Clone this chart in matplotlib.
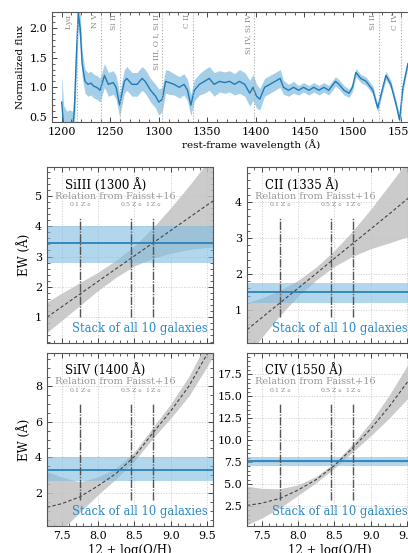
import numpy as np
import matplotlib
matplotlib.use("Agg")
import matplotlib.pyplot as plt
from matplotlib.ticker import AutoMinorLocator, MultipleLocator, FormatStrFormatter

plt.rcParams["font.family"] = ["DejaVu Serif"]
plt.rcParams["mathtext.fontset"] = "dejavuserif"

# stacked spectrum
wave = [1200, 1202, 1205, 1208, 1211, 1213, 1215, 1217, 1219, 1221, 1224, 1227,
        1230, 1233, 1236, 1239.5, 1244, 1248, 1253, 1256, 1259.6, 1264.5, 1267,
        1272.4, 1277.6, 1282.8, 1286, 1291.5, 1296.7, 1300, 1303.6, 1307, 1310.6,
        1315.8, 1321, 1326, 1329.6, 1333, 1336.6, 1341.8, 1347, 1352, 1357,
        1362.5, 1367.8, 1373, 1378, 1383, 1388.5, 1393.7, 1397, 1400.7, 1404,
        1409, 1414.5, 1419.8, 1425, 1428.4, 1433.6, 1438.8, 1444, 1449, 1454.6,
        1459.6, 1465, 1470, 1475, 1482, 1485.6, 1490.8, 1496, 1499.5, 1503,
        1508, 1513.6, 1520.5, 1525.5, 1530.8, 1534, 1539, 1544.6, 1548, 1551.5,
        1556.6, 1562]
flux = [0.75, 0.35, 0.3, 0.32, 0.3, 0.6, 1.5, 2.25, 2.0, 1.4, 1.1, 1.05,
        1.07, 1.02, 1.0, 0.95, 1.2, 1.05, 1.08, 1.0, 0.7, 1.1, 1.15,
        1.05, 1.05, 1.15, 1.1, 0.95, 0.85, 0.75, 0.8, 1.1, 1.08,
        1.05, 1.0, 1.05, 0.95, 0.7, 0.95, 1.05, 1.1, 1.15, 1.05,
        1.1, 1.08, 1.1, 1.05, 1.1, 1.05, 0.9, 1.0, 0.85, 0.8,
        1.0, 1.05, 1.1, 1.15, 1.0, 0.95, 1.0, 0.95, 1.0, 0.95,
        1.0, 0.95, 1.0, 0.95, 1.1, 1.05, 0.95, 0.9, 1.0, 1.25,
        1.15, 1.1, 0.95, 0.65, 1.0, 1.2, 1.05, 0.7, 0.45, 1.0,
        1.4, 1.35]
flux_err = [0.45, 0.35, 0.3, 0.3, 0.3, 0.3, 0.3, 0.25, 0.25, 0.22, 0.2, 0.2,
            0.2, 0.2, 0.2, 0.2, 0.2, 0.2, 0.2, 0.2, 0.2, 0.2, 0.2,
            0.2, 0.2, 0.2, 0.2, 0.2, 0.2, 0.22, 0.2, 0.2, 0.2,
            0.18, 0.18, 0.18, 0.18, 0.18, 0.18, 0.18, 0.2, 0.2, 0.2,
            0.18, 0.18, 0.18, 0.18, 0.2, 0.2, 0.22, 0.22, 0.2, 0.18,
            0.15, 0.15, 0.15, 0.15, 0.12, 0.1, 0.1, 0.08, 0.08, 0.08,
            0.08, 0.08, 0.08, 0.08, 0.08, 0.08, 0.08, 0.07, 0.07, 0.07,
            0.07, 0.07, 0.07, 0.07, 0.07, 0.07, 0.07, 0.07, 0.07, 0.07,
            0.07, 0.07]

line_names = ["Ly$\\alpha$", "N V", "Si II", "Si III, O I, Si II", "C II",
              "Si IV, Si IV", "Si II", "C IV"]
line_waves = [1216, 1240, 1260, 1303, 1335, 1398, 1527, 1549]

# Faisst+16 relations on a metallicity grid
oh = [7.3, 7.5, 7.75, 8.0, 8.25, 8.5, 8.75, 9.0, 9.25, 9.5, 9.6]

siiii_mid = [1.0, 1.34, 1.76, 2.18, 2.6, 3.02, 3.44, 3.86, 4.28, 4.7, 4.86]
siiii_lo = [0.5, 0.89, 1.38, 1.88, 2.32, 2.69, 2.94, 3.11, 3.23, 3.3, 3.31]
siiii_hi = [1.5, 1.79, 2.14, 2.48, 2.88, 3.35, 3.94, 4.61, 5.33, 6.1, 6.41]

cii_mid = [0.45, 0.78, 1.19, 1.6, 2.01, 2.43, 2.84, 3.25, 3.66, 4.08, 4.24]
cii_lo = [-0.3, 0.23, 0.84, 1.38, 1.83, 2.21, 2.49, 2.7, 2.86, 3.03, 3.09]
cii_hi = [1.2, 1.33, 1.54, 1.82, 2.19, 2.65, 3.19, 3.8, 4.46, 5.13, 5.39]

siiv_mid = [1.2, 1.4, 1.78, 2.4, 3.1, 4.05, 5.35, 6.6, 8.0, 9.8, 10.6]
siiv_lo = [-0.8, -0.1, 0.93, 1.9, 2.8, 3.8, 5.05, 6.2, 7.45, 9.1, 9.8]
siiv_hi = [3.2, 2.9, 2.63, 2.9, 3.4, 4.3, 5.65, 7.0, 8.55, 10.5, 11.4]

civ_mid = [2.55, 2.8, 3.35, 4.3, 5.5, 7.1, 9.1, 11.3, 13.8, 16.6, 17.8]
civ_lo = [0.35, 1.1, 2.25, 3.7, 5.15, 6.8, 8.65, 10.5, 12.5, 14.7, 15.6]
civ_hi = [4.75, 4.5, 4.45, 4.9, 5.85, 7.4, 9.55, 12.1, 15.1, 18.5, 20.0]

panel_names = ["SiIII (1300 Å)", "CII (1335 Å)", "SiIV (1400 Å)", "CIV (1550 Å)"]
stack_ew = [3.45, 1.5, 3.3, 7.6]
stack_lo = [2.8, 1.2, 2.7, 7.1]
stack_hi = [4.0, 1.75, 4.0, 8.1]
ylims = [(0.15, 5.95), (0.08, 4.97), (0.15, 9.85), (0.2, 19.95)]
ysteps = [1, 1, 2, 2.5]

z_marks = [7.76, 8.46, 8.76]
z_labels = ["0.1 Z$_\\odot$", "0.5 Z$_\\odot$", "1 Z$_\\odot$"]

blue = "#1f7bb6"
blue_band = "#7fbbe0"
grey_band = "#c2c2c2"

fig = plt.figure(figsize=(4.08, 5.53), dpi=100)


def style_axes(ax):
    ax.tick_params(which="both", direction="in", top=True, right=True,
                   colors="#444444", labelcolor="black", labelsize=8)
    ax.tick_params(which="major", length=3.5, width=0.7)
    ax.tick_params(which="minor", length=2, width=0.6)
    ax.xaxis.set_minor_locator(AutoMinorLocator())
    ax.yaxis.set_minor_locator(AutoMinorLocator())
    for s in ax.spines.values():
        s.set_color("#555555")
        s.set_linewidth(0.8)


# top: spectrum
ax = fig.add_axes([0.1275, 0.7794, 0.9755, 0.1989])
ax.fill_between(wave, np.array(flux) - np.array(flux_err),
                np.array(flux) + np.array(flux_err), color=blue_band,
                alpha=0.7, lw=0)
ax.plot(wave, flux, color=blue, lw=1.0)
for name, w in zip(line_names, line_waves):
    ax.axvline(w, color="#aaaaaa", ls=":", lw=0.8)
    ax.text(w - 2, 2.24, name, rotation=90, ha="right", va="top",
            fontsize=5.5, color="#888888")
ax.set_xlim(1190, 1600)
ax.set_ylim(0.415, 2.27)
ax.xaxis.set_major_locator(MultipleLocator(50))
ax.yaxis.set_major_locator(MultipleLocator(0.5))
style_axes(ax)
ax.set_xlabel("rest-frame wavelength (Å)", fontsize=7.5, labelpad=2)
ax.set_ylabel("Normalized flux", fontsize=7.5, labelpad=3)

# bottom: EW vs metallicity
positions = [[0.1152, 0.3797, 0.4069, 0.3183],
             [0.6054, 0.3797, 0.4069, 0.3183],
             [0.1152, 0.0488, 0.4069, 0.3128],
             [0.6054, 0.0488, 0.4069, 0.3128]]
mids = [siiii_mid, cii_mid, siiv_mid, civ_mid]
los = [siiii_lo, cii_lo, siiv_lo, civ_lo]
his = [siiii_hi, cii_hi, siiv_hi, civ_hi]

for i in range(4):
    ax = fig.add_axes(positions[i])
    ax.grid(True, ls=":", color="#cccccc", lw=0.7)
    ax.set_axisbelow(True)
    ax.fill_between(oh, los[i], his[i], color=grey_band, alpha=0.85, lw=0)
    ax.plot(oh, mids[i], color="#444444", ls="--", lw=0.8, dashes=(3, 2))
    ax.axhspan(stack_lo[i], stack_hi[i], color=blue_band, alpha=0.6, lw=0)
    ax.axhline(stack_ew[i], color=blue, lw=1.2)
    for z, zl in zip(z_marks, z_labels):
        ax.axvline(z, ymin=0.15, ymax=0.71, color="#555555", lw=1.0,
                   ls=(0, (6, 1, 1, 1)))
        ax.text(z, 0.76, zl, transform=ax.get_xaxis_transform(), ha="center",
                va="bottom", fontsize=4.5, color="#888888")
    ax.text(0.11, 0.90, panel_names[i], transform=ax.transAxes, fontsize=8.5,
            va="center", ha="left")
    ax.text(0.05, 0.835, "Relation from Faisst+16", transform=ax.transAxes,
            fontsize=7, color="#999999", va="center", ha="left")
    ax.text(0.97, 0.085, "Stack of all 10 galaxies", transform=ax.transAxes,
            fontsize=8.3, color="#2a8ac4", va="center", ha="right")
    ax.set_xlim(7.3, 9.58)
    ax.set_ylim(*ylims[i])
    ax.xaxis.set_major_locator(MultipleLocator(0.5))
    ax.yaxis.set_major_locator(MultipleLocator(ysteps[i]))
    if ysteps[i] == 2.5:
        ax.yaxis.set_major_formatter(FormatStrFormatter("%.1f"))
    style_axes(ax)
    if i < 2:
        ax.tick_params(labelbottom=False)
    else:
        ax.set_xlabel("12 + log(O/H)", fontsize=8.5, labelpad=2)
    if i % 2 == 0:
        ax.set_ylabel("EW (Å)", fontsize=8.5, labelpad=3)

fig.savefig("out.png", dpi=100)
